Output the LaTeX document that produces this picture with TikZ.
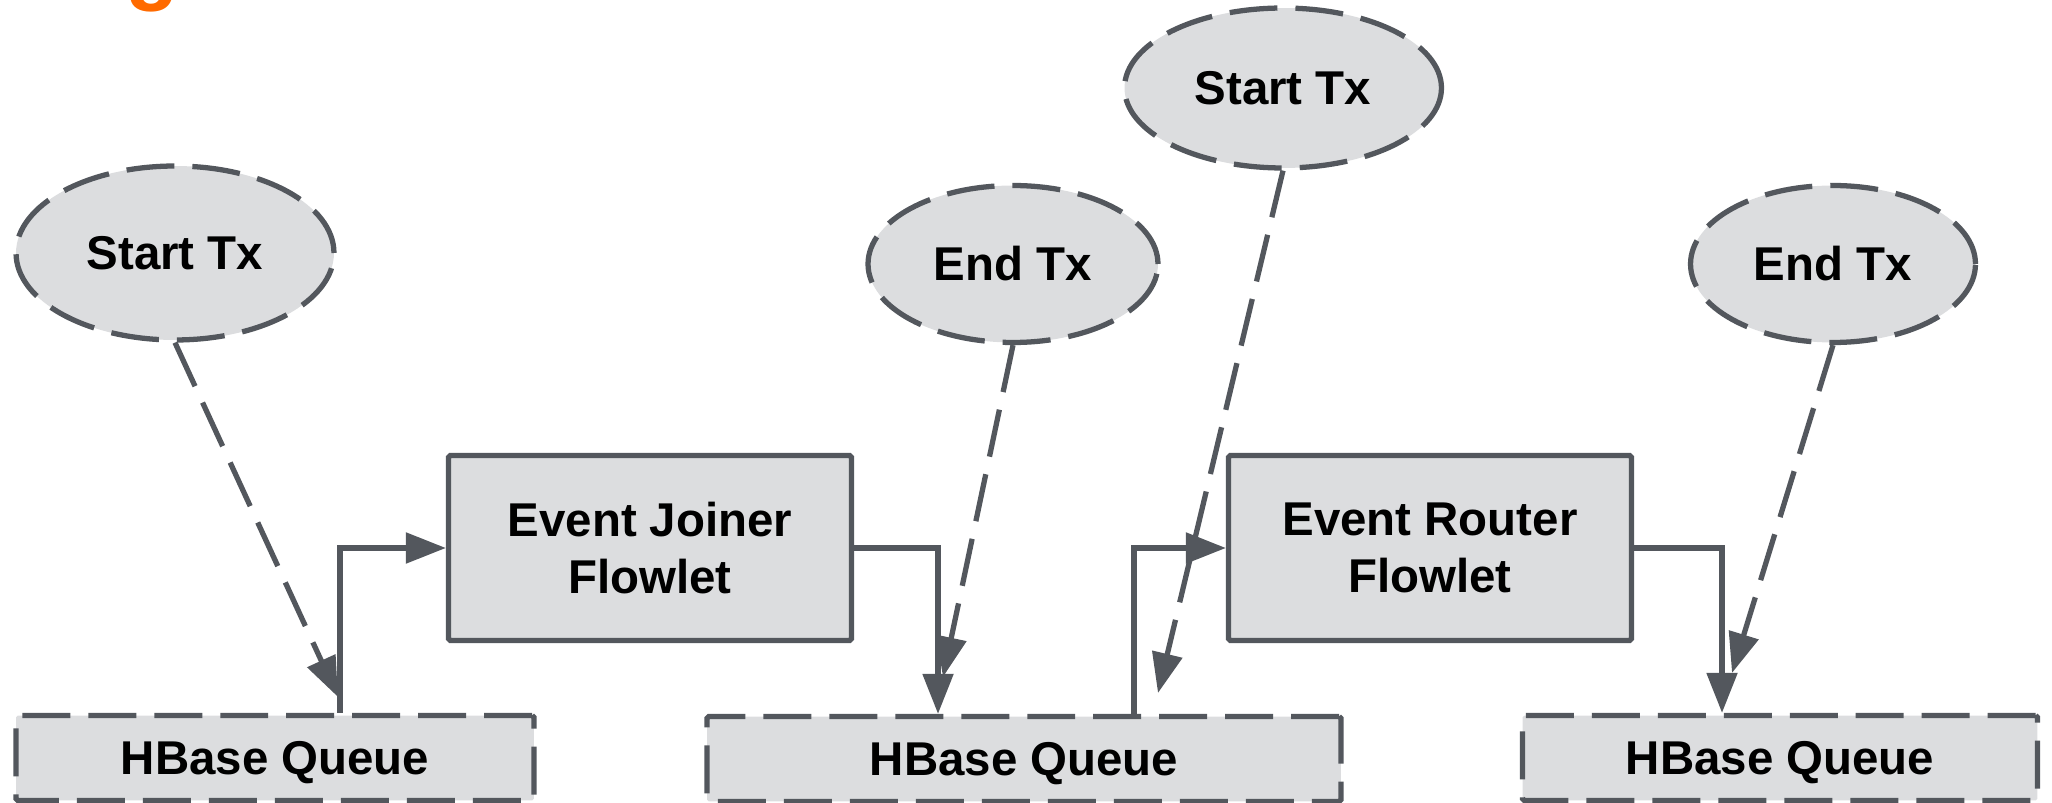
\documentclass[tikz,border=0pt]{standalone}
\usepackage{fontspec}
\setmainfont{Liberation Sans}
\usepackage{tikz}
\usetikzlibrary{shapes.geometric,arrows.meta}
\definecolor{boxgray}{HTML}{DCDDDF}
\definecolor{edgegray}{HTML}{53575D}
\definecolor{titleorange}{HTML}{FF6A00}
\begin{document}
\begin{tikzpicture}[x=0.02cm, y=-0.02cm, line width=3pt, color=edgegray,
	lbl/.style={font=\fontsize{27}{32}\selectfont\bfseries, text=black, align=center},
	txnode/.style={ellipse, draw, dash pattern=on 0.96cm off 0.36cm, fill=boxgray, inner sep=0pt, lbl},
	flowlet/.style={rectangle, draw, fill=boxgray, rounded corners=1pt, lbl, minimum width=8.06cm, minimum height=3.7cm},
	queue/.style={rectangle, draw, dash pattern=on 0.96cm off 0.36cm, fill=boxgray, rounded corners=1pt, lbl, text height=0.65cm, text depth=0pt, minimum height=1.7cm},
	flow/.style={-{Triangle[length=0.8cm,width=0.6cm]}},
	txflow/.style={flow, dash pattern=on 0.96cm off 0.36cm}]
	\useasboundingbox (0,0) rectangle (2052,803);
	\node[font=\fontsize{50}{60}\selectfont\bfseries, text=titleorange, anchor=base, inner sep=0pt] (title) at (152,-6) {g};
	\node[txnode, minimum width=6.36cm, minimum height=3.48cm] (start1) at (175,253) {Start Tx};
	\node[txnode, minimum width=5.8cm, minimum height=3.14cm] (end1) at (1013,264) {End Tx};
	\node[txnode, minimum width=6.34cm, minimum height=3.2cm] (start2) at (1283,88) {Start Tx};
	\node[txnode, minimum width=5.7cm, minimum height=3.14cm] (end2) at (1833,264) {End Tx};
	\node[flowlet] (joiner) at (650,548) {Event Joiner\\Flowlet};
	\node[flowlet] (router) at (1430,548) {Event Router\\Flowlet};
	\node[queue, minimum width=10.36cm] (queue1) at (275,758) {HBase Queue};
	\node[queue, minimum width=12.68cm] (queue2) at (1024,759) {HBase Queue};
	\node[queue, minimum width=10.3cm] (queue3) at (1780,758) {HBase Queue};
	\coordinate (tip1) at (338,697);
	\coordinate (tip2) at (943,677);
	\coordinate (tip3) at (1158,693);
	\coordinate (tip4) at (1732,673);
	\draw[flow] ([xshift=1.3cm]queue1.north) |- (joiner.west);
	\draw[flow] (joiner.east) -| ([xshift=-1.72cm]queue2.north);
	\draw[flow] ([xshift=2.2cm]queue2.north) |- (router.west);
	\draw[flow] (router.east) -| ([xshift=-1.16cm]queue3.north);
	\draw[txflow] (start1.south) -- (tip1);
	\draw[txflow] (end1.south) -- (tip2);
	\draw[txflow] (start2.south) -- (tip3);
	\draw[txflow] (end2.south) -- (tip4);
\end{tikzpicture}
\end{document}
